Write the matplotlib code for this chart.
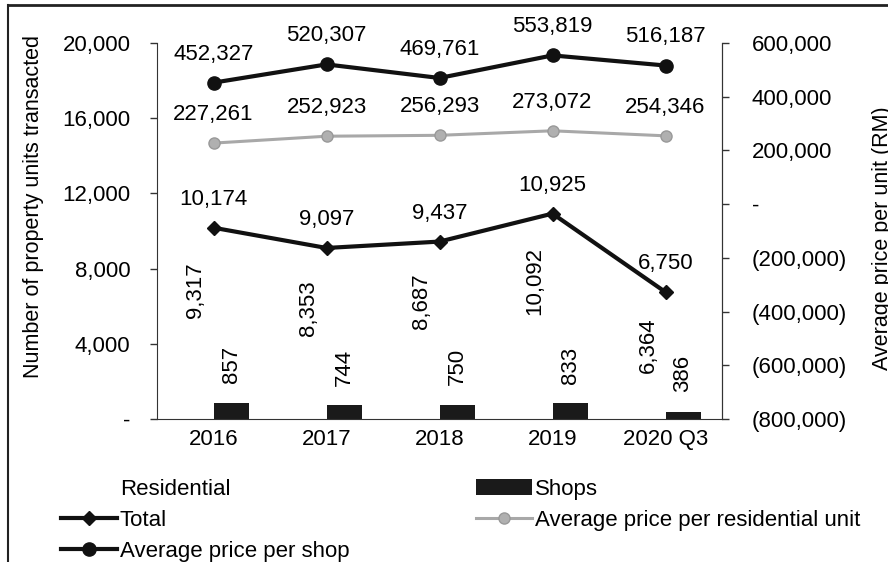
import numpy as np
import matplotlib
matplotlib.use("Agg")
from matplotlib import pyplot as plt
from matplotlib.lines import Line2D
from matplotlib.ticker import FuncFormatter

plt.rcParams['font.family'] = ['Liberation Sans', 'DejaVu Sans']

categories = ['2016', '2017', '2018', '2019', '2020 Q3']
residential = [9317, 8353, 8687, 10092, 6364]
shops = [857, 744, 750, 833, 386]
total = [10174, 9097, 9437, 10925, 6750]
avg_res = [227261, 252923, 256293, 273072, 254346]
avg_shop = [452327, 520307, 469761, 553819, 516187]

FS = 16


def acct(v, pos=None):
    if v == 0:
        return '-'
    if v < 0:
        return '({:,.0f})'.format(-v)
    return '{:,.0f}'.format(v)


fig = plt.figure(figsize=(8.88, 5.62), dpi=100)
ax = fig.add_axes([157 / 888, 1 - 419 / 562, 565 / 888, 376 / 562])
ax2 = ax.twinx()

x = np.arange(len(categories))
w = 0.31
b_res = ax.bar(x - w / 2, residential, w, color='white', label='Residential')
b_shop = ax.bar(x + w / 2, shops, w, color='#1a1a1a', label='Shops')
l_tot, = ax.plot(x, total, color='#111111', lw=3, marker='D', ms=7, label='Total')

l_res, = ax2.plot(x, avg_res, color='#a8a8a8', lw=2.2, marker='o', ms=8,
                  mfc='#b0b0b0', mec='#999999', label='Average price per residential unit')
l_shop, = ax2.plot(x, avg_shop, color='#111111', lw=3, marker='o', ms=9.5,
                   label='Average price per shop')

# data labels
for xi, v in zip(x, residential):
    ax.annotate('{:,}'.format(v), (xi - w / 2, v), xytext=(0, -13), textcoords='offset points',
                rotation=90, ha='center', va='top', fontsize=FS)
for xi, v in zip(x, shops):
    ax.annotate('{:,}'.format(v), (xi + w / 2, v), xytext=(0, 14), textcoords='offset points',
                rotation=90, ha='center', va='bottom', fontsize=FS)
for xi, v in zip(x, total):
    ax.annotate('{:,}'.format(v), (xi, v), xytext=(0, 13), textcoords='offset points',
                ha='center', va='bottom', fontsize=FS)
for xi, v in zip(x, avg_res):
    ax2.annotate('{:,}'.format(v), (xi, v), xytext=(0, 13), textcoords='offset points',
                 ha='center', va='bottom', fontsize=FS)
for xi, v in zip(x, avg_shop):
    ax2.annotate('{:,}'.format(v), (xi, v), xytext=(0, 13), textcoords='offset points',
                 ha='center', va='bottom', fontsize=FS)

ax.set_xlim(-0.5, len(categories) - 0.5)
ax.set_ylim(0, 20000)
ax.set_yticks(np.arange(0, 20001, 4000))
ax.yaxis.set_major_formatter(FuncFormatter(acct))
ax2.set_ylim(-800000, 600000)
ax2.set_yticks(np.arange(-800000, 600001, 200000))
ax2.yaxis.set_major_formatter(FuncFormatter(acct))

ax.set_xticks(x)
ax.set_xticklabels(categories, fontsize=FS)
ax.tick_params(axis='x', length=0, pad=7)
ax.tick_params(axis='y', length=5, width=1, pad=14, labelsize=FS, color='#333333')
ax2.tick_params(axis='y', length=5, width=1, pad=16.5, labelsize=FS, color='#333333')

for a in (ax, ax2):
    a.spines['top'].set_visible(False)
    a.spines['left'].set_color('#333333')
    a.spines['right'].set_color('#333333')
    a.spines['bottom'].set_color('#333333')
    a.patch.set_visible(False)
ax2.spines['left'].set_visible(False)
ax2.spines['bottom'].set_visible(False)

fig.text(34 / 888, 1 - 207 / 562, 'Number of property units transacted', rotation=90,
         ha='center', va='center', fontsize=15.5)
fig.text(882 / 888, 1 - 238 / 562, 'Average price per unit (RM)', rotation=90,
         ha='center', va='center', fontsize=15.5)

handles = [b_res, l_tot, l_shop, b_shop, l_res]
labels = [h.get_label() for h in handles]
fig.legend(handles, labels, ncol=2, loc='upper left', bbox_to_anchor=(61 / 888, 1 - 479 / 562),
           frameon=False, fontsize=16, handlelength=2.5, handletextpad=0.15,
           columnspacing=5.7, labelspacing=0.45, borderpad=0, borderaxespad=0)

# outer frame of the pasted chart
fig.add_artist(Line2D([8 / 888, 8 / 888], [0, 1 - 5 / 562], color='#222222', lw=1.5))
fig.add_artist(Line2D([8 / 888, 1], [1 - 5 / 562, 1 - 5 / 562], color='#222222', lw=2))

fig.savefig('out.png', dpi=100)
